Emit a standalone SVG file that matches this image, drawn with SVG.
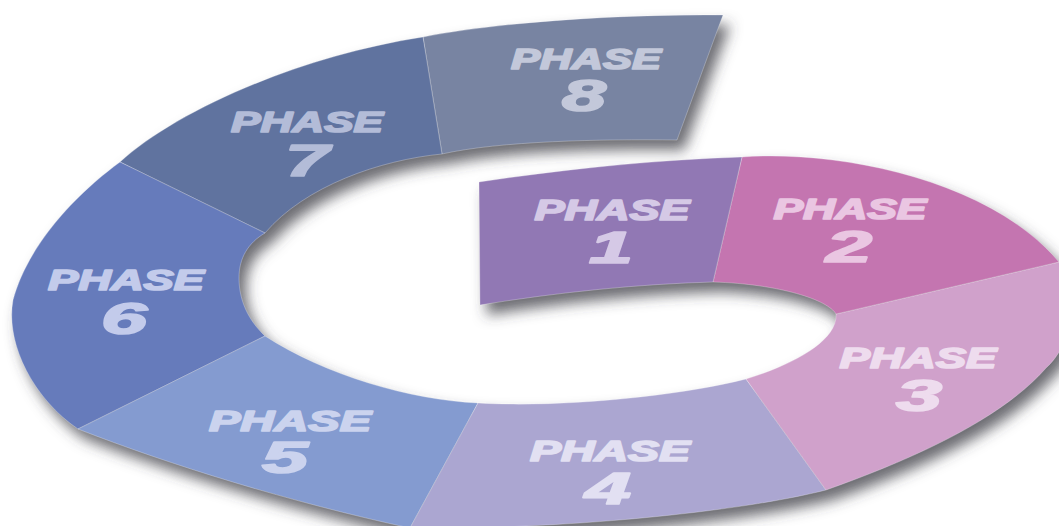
<svg xmlns="http://www.w3.org/2000/svg" xmlns:xlink="http://www.w3.org/1999/xlink" width="1059" height="526" viewBox="0 0 1059 526">
  <defs>
    <filter id="sh" x="-10%" y="-10%" width="130%" height="140%">
      <feGaussianBlur in="SourceAlpha" stdDeviation="7"/>
      <feOffset dx="7" dy="10" result="b"/>
      <feFlood flood-color="#3c3c44" flood-opacity="0.75"/>
      <feComposite in2="b" operator="in"/>
    </filter>
  </defs>
  <style>
    .seg { stroke: #ffffff; stroke-opacity: 0.35; stroke-width: 0.8; }
    .lbl { font-family: "Liberation Sans", Arial, sans-serif; font-weight: bold; font-style: italic; text-anchor: middle; stroke-width: 1.7; stroke-linejoin: round; }
    .w { font-size: 29px; }
    .n { font-size: 44px; }
  </style>
  <rect width="1059" height="526" fill="#ffffff"/>

  <g id="shadows" filter="url(#sh)" fill="#000">
    <use xlink:href="#s1"/>
    <use xlink:href="#s2"/>
    <use xlink:href="#s3"/>
    <use xlink:href="#s4"/>
    <use xlink:href="#s5"/>
    <use xlink:href="#s6"/>
    <use xlink:href="#s7"/>
    <use xlink:href="#s8"/>
  </g>

  <g id="phase8">
    <path id="s8" class="seg" fill="#7884a2" d="M423,37 C500,22 620,14 723,15 L677,140 C600,139 500,141 442,154 Z"/>
    <text class="lbl w" x="586" y="69" fill="#c3c8da" stroke="#c3c8da" textLength="150" lengthAdjust="spacingAndGlyphs">PHASE</text>
    <text class="lbl n" x="584" y="111" fill="#c3c8da" stroke="#c3c8da" textLength="44" lengthAdjust="spacingAndGlyphs">8</text>
  </g>

  <g id="phase7">
    <path id="s7" class="seg" fill="#60739f" d="M120,162 C175,112 295,57 423,37 L442,154 C380,160 305,186 265,233 Z"/>
    <text class="lbl w" x="307" y="132" fill="#b3bcd8" stroke="#b3bcd8" textLength="152" lengthAdjust="spacingAndGlyphs">PHASE</text>
    <text class="lbl n" x="307" y="176" fill="#b3bcd8" stroke="#b3bcd8" textLength="44" lengthAdjust="spacingAndGlyphs">7</text>
  </g>

  <g id="phase6">
    <path id="s6" class="seg" fill="#667bbb" d="M120,162 C75,195 28,245 13,300 C5,345 35,400 78,429 L265,336 C248,320 239,300 239,278 C239,258 248,243 265,233 Z"/>
    <text class="lbl w" x="126" y="290" fill="#c3cbeb" stroke="#c3cbeb" textLength="156" lengthAdjust="spacingAndGlyphs">PHASE</text>
    <text class="lbl n" x="124" y="334" fill="#c3cbeb" stroke="#c3cbeb" textLength="46" lengthAdjust="spacingAndGlyphs">6</text>
  </g>

  <g id="phase5">
    <path id="s5" class="seg" fill="#849bd0" d="M78,429 C170,465 290,502 410,528 L478,403 C410,400 325,375 265,336 Z"/>
    <text class="lbl w" x="290" y="431" fill="#cbd3ee" stroke="#cbd3ee" textLength="162" lengthAdjust="spacingAndGlyphs">PHASE</text>
    <text class="lbl n" x="285" y="473" fill="#cbd3ee" stroke="#cbd3ee" textLength="46" lengthAdjust="spacingAndGlyphs">5</text>
  </g>

  <g id="phase4">
    <path id="s4" class="seg" fill="#aba6d1" d="M478,403 C560,408 680,396 746,379 L826,490 C740,512 560,530 410,528 Z"/>
    <text class="lbl w" x="610" y="461" fill="#e2e0f2" stroke="#e2e0f2" textLength="160" lengthAdjust="spacingAndGlyphs">PHASE</text>
    <text class="lbl n" x="608" y="504" fill="#e2e0f2" stroke="#e2e0f2" textLength="46" lengthAdjust="spacingAndGlyphs">4</text>
  </g>

  <g id="phase3">
    <path id="s3" class="seg" fill="#d0a1cb" d="M746,379 C795,364 838,340 836,314 L1059,262 L1070,262 C1078,300 1072,345 1046,368 C1005,415 925,455 826,490 Z"/>
    <text class="lbl w" x="918" y="368" fill="#eedcee" stroke="#eedcee" textLength="157" lengthAdjust="spacingAndGlyphs">PHASE</text>
    <text class="lbl n" x="919" y="411" fill="#eedcee" stroke="#eedcee" textLength="46" lengthAdjust="spacingAndGlyphs">3</text>
  </g>

  <g id="phase2">
    <path id="s2" class="seg" fill="#c475b0" d="M742,157 C840,150 990,180 1059,262 L836,314 C828,300 780,284 713,282 Z"/>
    <text class="lbl w" x="850" y="219" fill="#eac6e2" stroke="#eac6e2" textLength="153" lengthAdjust="spacingAndGlyphs">PHASE</text>
    <text class="lbl n" x="849" y="262" fill="#eac6e2" stroke="#eac6e2" textLength="46" lengthAdjust="spacingAndGlyphs">2</text>
  </g>

  <g id="phase1">
    <path id="s1" class="seg" fill="#9178b4" d="M479,182 C560,170 650,160 742,157 L713,282 C640,284 560,292 480,305 Z"/>
    <text class="lbl w" x="612" y="220" fill="#d5c9e6" stroke="#d5c9e6" textLength="155" lengthAdjust="spacingAndGlyphs">PHASE</text>
    <text class="lbl n" x="611" y="263" fill="#d5c9e6" stroke="#d5c9e6" textLength="44" lengthAdjust="spacingAndGlyphs">1</text>
  </g>

  <g id="connectors"/>
</svg>
